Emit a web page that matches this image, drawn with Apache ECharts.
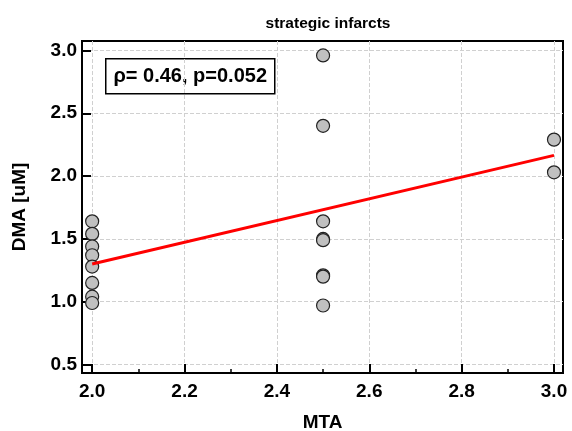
<!DOCTYPE html>
<html>
<head>
<meta charset="utf-8">
<script src="https://cdn.jsdelivr.net/npm/echarts@6/dist/echarts.min.js"></script>
<style>
  html, body { margin: 0; padding: 0; background: #fff; }
  #chart { width: 572px; height: 431px; }
</style>
</head>
<body>
<div id="chart"></div>
<script>
// MTA score (x) and DMA level (y) per patient
var mta = [2, 2, 2, 2, 2, 2, 2, 2, 2.5, 2.5, 2.5, 2.5, 2.5, 2.5, 2.5, 2.5, 3, 3]
var dma = [1.64, 1.54, 1.44, 1.37, 1.28, 1.15, 1.04, 0.99,
  2.96, 2.40, 1.64, 1.50, 1.49, 1.21, 1.20, 0.97,
  2.29, 2.03]
// regression line end points
var fitX = [2.0, 3.0]
var fitY = [1.30, 2.165]
var xTicks = [2.0, 2.2, 2.4, 2.6, 2.8, 3.0]
var xMinorTicks = [2.1, 2.3, 2.5, 2.7, 2.9]
var yTicks = [0.5, 1.0, 1.5, 2.0, 2.5, 3.0]
var statText = 'ρ= 0.46, p=0.052'

var font = "'Liberation Sans', Arial, sans-serif"
var chart = echarts.init(document.getElementById('chart'))

var points = mta.map(function (x, i) { return [x, dma[i]] })
var fit = fitX.map(function (x, i) { return [x, fitY[i]] })

var option = {
  animation: false,
  backgroundColor: '#fff',
  title: {
    text: 'strategic infarcts',
    left: 323,
    textAlign: 'center',
    top: 11,
    textStyle: { fontFamily: font, fontWeight: 'bold', fontSize: 15.5, color: '#000' }
  },
  grid: {
    left: 82,
    right: 9,
    top: 41,
    bottom: 58,
    outerBoundsMode: 'none',
    containLabel: false,
    show: true,
    borderColor: '#000',
    borderWidth: 2,
    backgroundColor: '#fff'
  },
  xAxis: [
    {
      type: 'value',
      min: 1.978,
      max: 3.0195,
      name: 'MTA',
      nameLocation: 'middle',
      nameGap: 40,
      nameTextStyle: { fontFamily: font, fontWeight: 'bold', fontSize: 19, color: '#000' },
      axisLine: { show: true, lineStyle: { color: '#000', width: 2 } },
      axisTick: { inside: true, length: 9, customValues: xTicks, lineStyle: { color: '#000', width: 2 } },
      axisLabel: {
        customValues: xTicks,
        margin: 9,
        fontFamily: font,
        fontWeight: 'bold',
        fontSize: 19,
        color: '#000',
        formatter: function (v) { return v.toFixed(1) }
      },
      splitLine: { show: true, lineStyle: { color: '#d0d0d0', type: 'dashed', width: 1 } }
    },
    {
      type: 'value',
      position: 'bottom',
      min: 1.978,
      max: 3.0195,
      axisLine: { show: false },
      axisTick: { inside: true, length: 4, customValues: xMinorTicks, lineStyle: { color: '#000', width: 1.5 } },
      axisLabel: { show: false },
      splitLine: { show: false }
    }
  ],
  yAxis: {
    type: 'value',
    min: 0.433,
    max: 3.075,
    name: 'DMA [uM]',
    nameLocation: 'middle',
    nameGap: 53,
    nameTextStyle: { fontFamily: font, fontWeight: 'bold', fontSize: 19, color: '#000' },
    axisLine: { show: true, lineStyle: { color: '#000', width: 2 } },
    axisTick: { inside: true, length: 9, customValues: yTicks, lineStyle: { color: '#000', width: 2 } },
    axisLabel: {
      customValues: yTicks,
      margin: 5,
      fontFamily: font,
      fontWeight: 'bold',
      fontSize: 19,
      color: '#000',
      formatter: function (v) { return v.toFixed(1) }
    },
    splitLine: { show: true, lineStyle: { color: '#d0d0d0', type: 'dashed', width: 1 } }
  },
  series: [
    {
      type: 'scatter',
      data: points,
      symbol: 'circle',
      symbolSize: 13,
      itemStyle: { color: '#c0c0c0', borderColor: '#222', borderWidth: 1.2, opacity: 1 }
    },
    {
      type: 'line',
      data: fit,
      showSymbol: false,
      symbol: 'none',
      lineStyle: { color: '#ff0000', width: 3 },
      z: 3
    }
  ],
  graphic: [
    {
      type: 'group',
      left: 105,
      top: 58,
      children: [
        {
          type: 'rect',
          shape: { x: 0, y: 0, width: 169, height: 35 },
          style: { fill: '#fff', stroke: '#000', lineWidth: 1.5 }
        },
        {
          type: 'text',
          x: 84.5,
          y: 18,
          style: {
            text: statText,
            fontFamily: font,
            fontWeight: 'bold',
            fontSize: 20,
            fill: '#000',
            align: 'center',
            verticalAlign: 'middle'
          }
        }
      ]
    }
  ]
}
chart.setOption(option)
</script>
</body>
</html>
